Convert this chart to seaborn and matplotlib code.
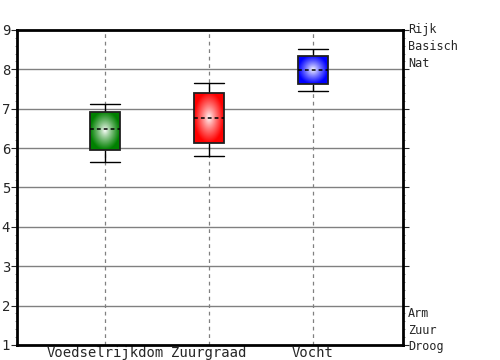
import numpy as np
import pandas as pd
import matplotlib
matplotlib.use('Agg')
import matplotlib.pyplot as plt
import seaborn as sns
from matplotlib.colors import to_rgb
from matplotlib.ticker import MultipleLocator

# Five-number summaries: whisker low, Q1, median, Q3, whisker high
categories = ['Voedselrijkdom', 'Zuurgraad', 'Vocht']
voedselrijkdom = [5.65, 5.95, 6.49, 6.92, 7.12]
zuurgraad = [5.80, 6.13, 6.77, 7.40, 7.65]
vocht = [7.46, 7.62, 7.98, 8.34, 8.51]
box_colors = ['#008000', '#ff0000', '#0000ff']
top_labels = ['Rijk', 'Basisch', 'Nat']
bottom_labels = ['Arm', 'Zuur', 'Droog']

df = pd.DataFrame({
    'categorie': np.repeat(categories, 5),
    'waarde': voedselrijkdom + zuurgraad + vocht,
})

sns.set_style('white')
plt.rcParams['font.family'] = ['DejaVu Sans Mono']
plt.rcParams['font.size'] = 10

fig = plt.figure(figsize=(5, 3.6), dpi=100)
ax = fig.add_axes([0.034, 0.0417, 0.772, 0.875])

sns.boxplot(data=df, x='categorie', y='waarde', ax=ax, width=0.28,
            whis=10, fill=True, color='white', linecolor='#202020', linewidth=1.3,
            medianprops={'linestyle': (0, (2.5, 2)), 'color': 'black', 'linewidth': 1.1},
            whiskerprops={'color': 'black', 'linewidth': 1},
            capprops={'color': 'black', 'linewidth': 1})

# widen the caps to the box width
whisker_ends = set(np.round([v[0] for v in (voedselrijkdom, zuurgraad, vocht)] +
                            [v[4] for v in (voedselrijkdom, zuurgraad, vocht)], 4))
for line in ax.lines:
    x, y = line.get_data()
    x = np.asarray(x, dtype=float)
    y = np.asarray(y, dtype=float)
    if len(y) == 2 and y[0] == y[1]:
        if round(float(y[0]), 4) in whisker_ends:
            c = x.mean()
            line.set_xdata([c - 0.14, c + 0.14])
        else:
            line.set_zorder(5)

# radial gradient fill inside each box
n = 120
gx, gy = np.meshgrid(np.linspace(-1, 1, n), np.linspace(-1, 1, n))
r = np.clip(np.sqrt(gx ** 2 + gy ** 2) / 1.0, 0, 1)
for patch, col in zip(list(ax.patches), box_colors):
    ext = patch.get_path().get_extents()
    rgb = np.array(to_rgb(col))
    t = r[..., None] ** 0.85
    img = (1 - t) * np.ones(3) + t * rgb
    im = ax.imshow(img, extent=[ext.x0, ext.x1, ext.y0, ext.y1], origin='lower',
                   aspect='auto', zorder=2.5, interpolation='bilinear')
    im.set_clip_path(patch)
    patch.set_facecolor('none')
    patch.set_zorder(4)

ax.set_xlim(-0.846, 2.865)
ax.set_ylim(1, 9)
ax.set_xlabel('')
ax.set_ylabel('')

# grid
for yv in range(2, 9):
    ax.axhline(yv, color='#808080', linewidth=1, zorder=1)
for xv in range(len(categories)):
    ax.axvline(xv, color='#808080', linewidth=0.9, linestyle=(0, (3, 3)), zorder=1)

ax.yaxis.set_major_locator(MultipleLocator(1))
ax.yaxis.set_minor_locator(MultipleLocator(0.2))
ax.tick_params(axis='y', which='major', length=4, width=0.8, pad=1, labelsize=10,
               left=True, right=True, direction='out')
ax.tick_params(axis='y', which='minor', length=1.5, width=0.5, left=True, right=True,
               direction='out', color='#606060')
ax.tick_params(axis='x', length=0, pad=1, labelsize=10)

for s in ax.spines.values():
    s.set_linewidth(2)
    s.set_color('black')

for lab, yv in zip(top_labels, [9.0, 8.57, 8.14]):
    ax.text(1.013, yv, lab, transform=ax.get_yaxis_transform(), va='center',
            ha='left', fontsize=8.5)
for lab, yv in zip(bottom_labels, [1.81, 1.38, 0.95]):
    ax.text(1.013, yv, lab, transform=ax.get_yaxis_transform(), va='center',
            ha='left', fontsize=8.5)

fig.savefig('out.png', dpi=100)
